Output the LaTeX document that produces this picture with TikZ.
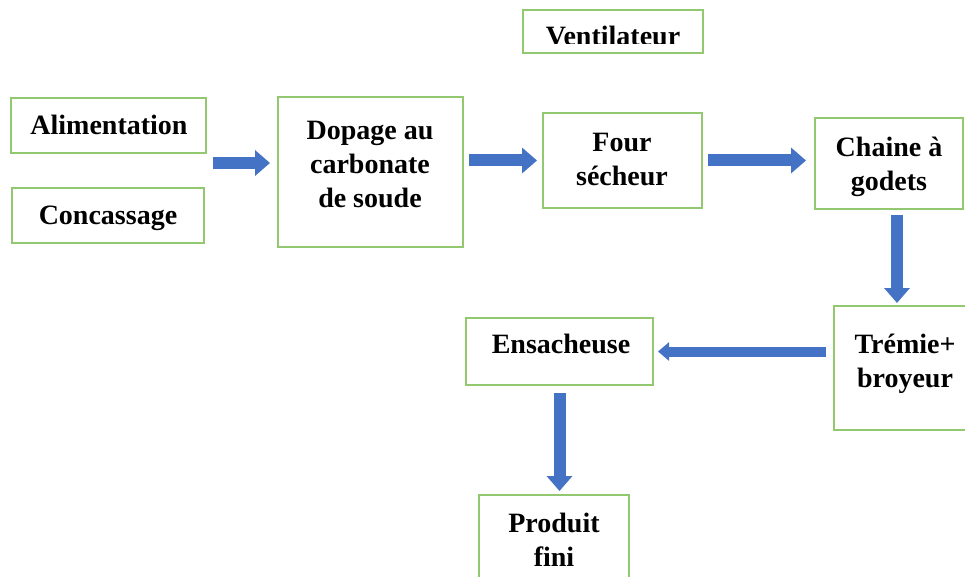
\documentclass[tikz,border=0pt]{standalone}
\usepackage{fontspec}
\setmainfont{Liberation Serif}
\usetikzlibrary{arrows.meta}
\definecolor{boxgreen}{RGB}{146,200,112}
\definecolor{flowblue}{RGB}{68,114,196}
\tikzset{
  stage/.style={draw=boxgreen, line width=2pt, rectangle, inner sep=0pt},
  caption/.style={font=\fontsize{28}{34}\selectfont\bfseries, align=center,
    inner sep=0pt, text=black},
  flow/.style={draw=flowblue, line width=12pt,
    -{Triangle[width=25pt,length=15pt]}},
  flowthin/.style={draw=flowblue, line width=10pt,
    -{Triangle[width=18pt,length=11pt]}},
}
\begin{document}
\begin{tikzpicture}[x=1pt,y=-1pt]
\useasboundingbox (0,0) rectangle (965,577);
\clip (0,0) rectangle (965,577);

% process boxes
\node[stage, minimum width=180pt, minimum height=43pt]  (vent)  at (613,31.5)  {};
\node[stage, minimum width=195pt, minimum height=55pt]  (alim)  at (108.5,125.5) {};
\node[stage, minimum width=192pt, minimum height=55pt]  (conc)  at (108,215.5) {};
\node[stage, minimum width=185pt, minimum height=150pt] (dop)   at (370.5,172) {};
\node[stage, minimum width=159pt, minimum height=95pt]  (four)  at (622.5,160.5) {};
\node[stage, minimum width=148pt, minimum height=91pt]  (chain) at (889,163.5) {};
\node[stage, minimum width=142pt, minimum height=124pt] (trem)  at (905,368) {};
\node[stage, minimum width=187pt, minimum height=67pt]  (ens)   at (559.5,351.5) {};
\node[stage, minimum width=150pt, minimum height=100pt] (prod)  at (554,545) {};

% box captions
\begin{scope}
  \clip (523,10) rectangle (703,44);
  \node[caption, anchor=base] (ventT) at (613,46) {Ventilateur};
\end{scope}
\node[caption, anchor=base] (alimT)  at (109,135) {Alimentation};
\node[caption, anchor=base] (concT)  at (108,225) {Concassage};
\node[caption] (dopT)   at (370,165) {Dopage au\\carbonate\\de soude};
\node[caption] (fourT)  at (622,159.5) {Four\\sécheur};
\node[caption] (chainT) at (889,166.5) {Chaine à\\godets};
\node[caption] (tremT)  at (905,363.5) {Trémie+\\broyeur};
\node[caption, anchor=base] (ensT) at (561,353) {Ensacheuse};
\node[caption] (prodT)  at (554,539.5) {Produit\\fini};

% flow arrows
\coordinate (feed) at (213,163);
\draw[flow] (feed) -- ([xshift=-7pt]feed -| dop.west);
\draw[flow] ([xshift=5pt]dop.east |- four.west) -- ([xshift=-5pt]four.west);
\draw[flow] ([xshift=5pt]four.east) -- ([xshift=-8pt]four.east -| chain.west);
\draw[flow] ([xshift=8pt,yshift=-5pt]chain.south) -- ([xshift=8pt,yshift=2pt]chain.south |- trem.north);
\draw[flowthin] ([xshift=-7pt]trem.west |- ens.east) -- ([xshift=4pt]ens.east);
\draw[flow] ([yshift=-7pt]ens.south) -- ([yshift=3pt]ens.south |- prod.north);
\end{tikzpicture}
\end{document}
